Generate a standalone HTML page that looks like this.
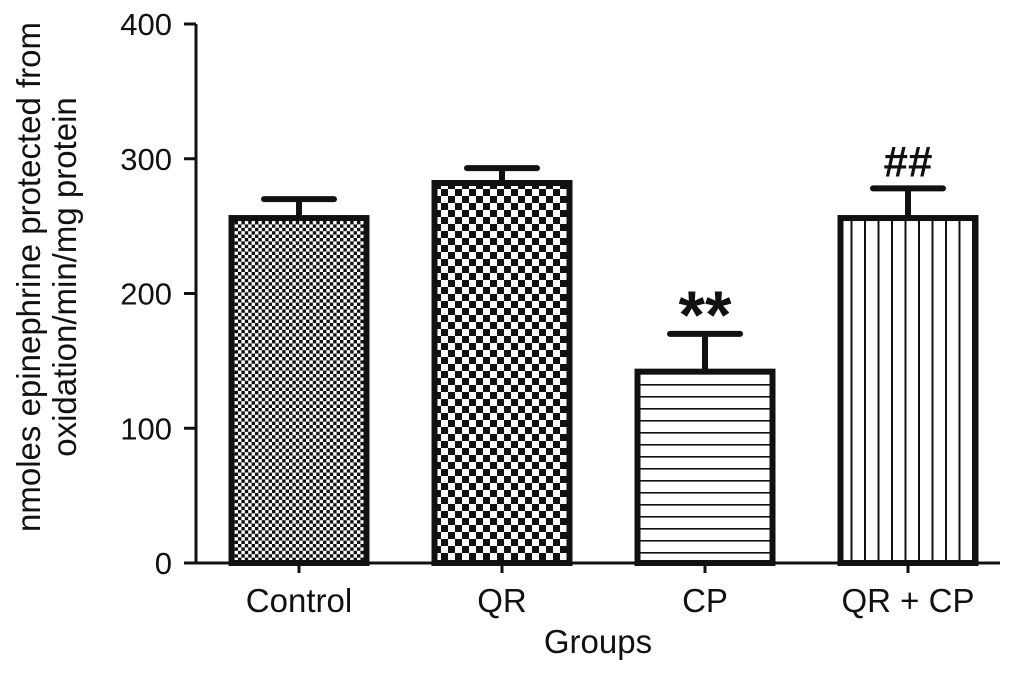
<!DOCTYPE html>
<html><head><meta charset="utf-8"><style>
body{margin:0;background:#fff;}
svg text{font-family:"Liberation Sans",Arial,sans-serif;fill:#111;}
</style></head><body>
<svg id="chart" width="1022" height="673" viewBox="0 0 1022 673" xmlns="http://www.w3.org/2000/svg">
<defs>
<pattern id="p0" width="6.8" height="6.8" patternUnits="userSpaceOnUse"><rect width="6.8" height="6.8" fill="#fff"/><rect width="3.4" height="3.4" fill="#111"/><rect x="3.4" y="3.4" width="3.4" height="3.4" fill="#111"/></pattern>
<pattern id="p1" width="14" height="14" patternUnits="userSpaceOnUse"><rect width="14" height="14" fill="#fff"/><rect width="7" height="7" fill="#111"/><rect x="7" y="7" width="7" height="7" fill="#111"/></pattern>
<pattern id="p2" width="10" height="12" patternUnits="userSpaceOnUse"><rect width="10" height="12" fill="#fff"/><rect y="0" width="10" height="1.6" fill="#111"/></pattern>
<pattern id="p3" width="13.5" height="10" patternUnits="userSpaceOnUse"><rect width="13.5" height="10" fill="#fff"/><rect x="0" width="2" height="10" fill="#111"/></pattern>
</defs>
<g id="bars"></g>
<g id="axes"></g>
<text transform="translate(40,277) rotate(-90)" text-anchor="middle" font-size="33">nmoles epinephrine protected from</text>
<text transform="translate(76,277) rotate(-90)" text-anchor="middle" font-size="33">oxidation/min/mg protein</text>
<text x="598" y="653" text-anchor="middle" font-size="33">Groups</text>
</svg>
<script>
const categories=["Control","QR","CP","QR + CP"];
const values=[256,282,142,256];
const errors=[14,11,28,22];
const marks=["","","**","##"];
const yTicks=[0,100,200,300,400];
const fills=["url(#p0)","url(#p1)","url(#p2)","url(#p3)"];
const NS="http://www.w3.org/2000/svg";
const y0=563,y1=24,vmax=400;
const y=v=>y0-(y0-y1)*v/vmax;
const xc=i=>299+203*i;
const bw=141;
const bars=document.getElementById('bars'),axes=document.getElementById('axes');
function mk(t,a,p){const e=document.createElementNS(NS,t);for(const k in a)e.setAttribute(k,a[k]);p.appendChild(e);return e;}
categories.forEach((c,i)=>{
  const top=y(values[i]);
  const r=mk('rect',{x:xc(i)-bw/2+3,y:top,width:bw-6,height:y0-top,fill:fills[i],stroke:'#111','stroke-width':6},bars);
  
  
  const ey=y(values[i]+errors[i]);
  const el=mk('path',{d:`M${xc(i)},${top} V${ey} M${xc(i)-35},${ey} H${xc(i)+35}`,stroke:'#111','stroke-width':6,'stroke-linecap':'round',fill:'none'},bars);
  
  
  if(marks[i]){
    const star=marks[i]=='**';
    const t=mk('text',{x:xc(i),y:ey-(star?-4:12),'text-anchor':'middle','font-size':star?68:44,'font-weight':'bold'},bars);
    t.textContent=marks[i];
    
    
  }
  const tl=mk('text',{x:xc(i),y:612,'text-anchor':'middle','font-size':33},axes);
  tl.textContent=c;
  
  
  const tk=mk('line',{x1:xc(i),x2:xc(i),y1:y0,y2:y0+10,stroke:'#111','stroke-width':3},axes);
  
  
});
const ya=mk('path',{d:`M196,${y1} V${y0} H1000`,stroke:'#111','stroke-width':3,fill:'none'},axes);


yTicks.forEach(v=>{
  const l=mk('line',{x1:184,x2:196,y1:y(v),y2:y(v),stroke:'#111','stroke-width':3},axes);
  
  
  const t=mk('text',{x:172,y:y(v)+11,'text-anchor':'end','font-size':31},axes);
  t.textContent=v;
  
  
});
</script>
</body></html>
